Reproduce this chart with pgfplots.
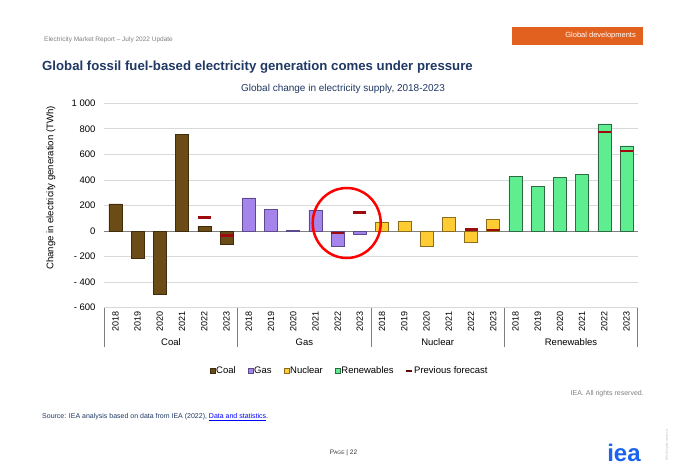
\documentclass[border=0pt]{standalone}
\usepackage{pgfplots}
\pgfplotsset{compat=1.18}
\usepackage{fontspec}
\setmainfont{Liberation Sans}
\definecolor{coalc}{HTML}{6B4C16}
\definecolor{coald}{HTML}{3E2C0C}
\definecolor{gasc}{HTML}{A584EC}
\definecolor{gasd}{HTML}{5B4A8E}
\definecolor{nucc}{HTML}{FFCC33}
\definecolor{nucd}{HTML}{8A6D1C}
\definecolor{renc}{HTML}{5FEE8F}
\definecolor{rend}{HTML}{2F6A44}
\definecolor{fcc}{HTML}{9E0B0F}
\definecolor{navy}{HTML}{1F3864}
\definecolor{ieaorange}{HTML}{E2611F}
\definecolor{gridc}{HTML}{D9D9D9}
\definecolor{axc}{HTML}{7F7F7F}
\definecolor{ieablue}{HTML}{1A63F0}
\newcommand{\fs}[1]{\fontsize{#1}{#1}\selectfont}
\pgfplotstableread{
x y
0 212
1 -212
2 -497
3 755
4 34
5 -104
}\coal
\pgfplotstableread{
x y
6 260
7 171
8 3
9 164
10 -122
11 -25
}\gas
\pgfplotstableread{
x y
12 71
13 76
14 -118
15 107
16 -86
17 89
}\nuclear
\pgfplotstableread{
x y
18 426
19 350
20 418
21 442
22 839
23 667
}\renew
\pgfplotstableread{
x y
4 107
5 -34
10 -13
11 144
16 13
17 10
22 776
23 625
}\forecast
\begin{document}
\begin{tikzpicture}
\path[fill=white,use as bounding box] (0pt,0pt) rectangle (680pt,475pt);
\node[anchor=west,inner sep=0pt,text=gray] at (44pt,435pt) {\fs{6.5}Electricity Market Report – July 2022 Update};
\fill[ieaorange] (512pt,430pt) rectangle (643pt,447.7pt);
\node[anchor=east,inner sep=0pt,text=white] at (636pt,439pt) {\fs{7.5}Global developments};
\node[anchor=west,inner sep=0pt,text=navy] at (42pt,408.3pt) {\fs{13.2}\bfseries Global fossil fuel-based electricity generation comes under pressure};
\node[inner sep=0pt,text=navy] at (343pt,385.7pt) {\fs{10}Global change in electricity supply, 2018-2023};
\begin{axis}[
  at={(104.3pt,167.3pt)}, anchor=south west,
  scale only axis, width=533.4pt, height=204.4pt,
  xmin=-0.5, xmax=23.5, ymin=-600, ymax=1000,
  clip=false,
  axis line style={draw=none},
  major tick length=0pt,
  ytick={-600,-400,-200,0,200,400,600,800,1000},
  yticklabels={- 600,- 400,- 200,0,200,400,600,800,1 000},
  ymajorgrids, grid style={gridc, line width=0.8pt},
  xtick={0,...,23},
  xticklabels={2018,2019,2020,2021,2022,2023,2018,2019,2020,2021,2022,2023,2018,2019,2020,2021,2022,2023,2018,2019,2020,2021,2022,2023},
  xticklabel style={rotate=90, anchor=east, inner sep=0pt, font=\fs{9}},
  xticklabel shift=4pt,
  yticklabel style={anchor=east, inner sep=0pt, font=\fs{9.5}},
  yticklabel shift=8.6pt,
  legend style={at={(0.459,-0.31)}, anchor=center, draw=none, legend columns=-1, font=\fs{9.5},
    /tikz/every even column/.append style={column sep=11pt}, inner sep=0pt, nodes={inner sep=1pt}},
]
\draw[axc, line width=1pt] (axis cs:-0.5,0) -- (axis cs:23.5,0);
\addplot[ybar, bar width=13pt, bar shift=0pt, fill=coalc, draw=coald, line width=0.6pt,
  legend image code/.code={\draw[fill=coalc,draw=coald,line width=0.5pt] (0pt,-2.5pt) rectangle (5pt,2.5pt);}] table[x=x,y=y] {\coal};
\addlegendentry{Coal}
\addplot[ybar, bar width=13pt, bar shift=0pt, fill=gasc, draw=gasd, line width=0.6pt,
  legend image code/.code={\draw[fill=gasc,draw=gasd,line width=0.5pt] (0pt,-2.5pt) rectangle (5pt,2.5pt);}] table[x=x,y=y] {\gas};
\addlegendentry{Gas}
\addplot[ybar, bar width=13pt, bar shift=0pt, fill=nucc, draw=nucd, line width=0.6pt,
  legend image code/.code={\draw[fill=nucc,draw=nucd,line width=0.5pt] (0pt,-2.5pt) rectangle (5pt,2.5pt);}] table[x=x,y=y] {\nuclear};
\addlegendentry{Nuclear}
\addplot[ybar, bar width=13pt, bar shift=0pt, fill=renc, draw=rend, line width=0.6pt,
  legend image code/.code={\draw[fill=renc,draw=rend,line width=0.5pt] (0pt,-2.5pt) rectangle (5pt,2.5pt);}] table[x=x,y=y] {\renew};
\addlegendentry{Renewables}
\addplot[only marks, mark=-, mark size=6.5pt, mark options={line width=2.4pt, draw=fcc},
  legend image code/.code={\draw[line width=1.5pt, fcc!60!black] (0pt,0pt) -- (6pt,0pt);}] table[x=x,y=y] {\forecast};
\addlegendentry{Previous forecast}
\foreach \sx in {-0.5,5.5,11.5,17.5,23.5} {
  \edef\tmp{\noexpand\draw[axc, line width=1pt] (axis cs:\sx,-600) -- ++(0pt,-39.5pt);}\tmp
}
\node[font=\fs{9.5}] at (axis cs:2.5,-600) [yshift=-34.3pt] {Coal};
\node[font=\fs{9.5}] at (axis cs:8.5,-600) [yshift=-34.3pt] {Gas};
\node[font=\fs{9.5}] at (axis cs:14.5,-600) [yshift=-34.3pt] {Nuclear};
\node[font=\fs{9.5}] at (axis cs:20.5,-600) [yshift=-34.3pt] {Renewables};
\end{axis}
\draw[red, line width=2.5pt] (346.7pt,252pt) ellipse (34pt and 35pt);
\node[rotate=90, inner sep=0pt] at (51pt,287pt) {\fs{9.6}Change in electricity generation (TWh)};
\node[anchor=east,inner sep=0pt,text=gray] at (644pt,81pt) {\fs{7}IEA. All rights reserved.};
\node[anchor=west,inner sep=0pt,text=navy] at (42pt,58pt) {\fs{7}Source: IEA analysis based on data from IEA (2022), \textcolor{blue}{\underline{Data and statistics}}.};
\node[inner sep=0pt,text=black!80] at (343.5pt,22pt) {\fs{6.5}P{\fs{5}AGE} | 22};
\node[anchor=base,inner sep=0pt,text=ieablue] at (624pt,14pt) {\fs{24}\bfseries iea};
\node[rotate=90,inner sep=0pt,text=black!30] at (667pt,30pt) {\fs{3}IEA. All rights reserved.};
\end{tikzpicture}
\end{document}
